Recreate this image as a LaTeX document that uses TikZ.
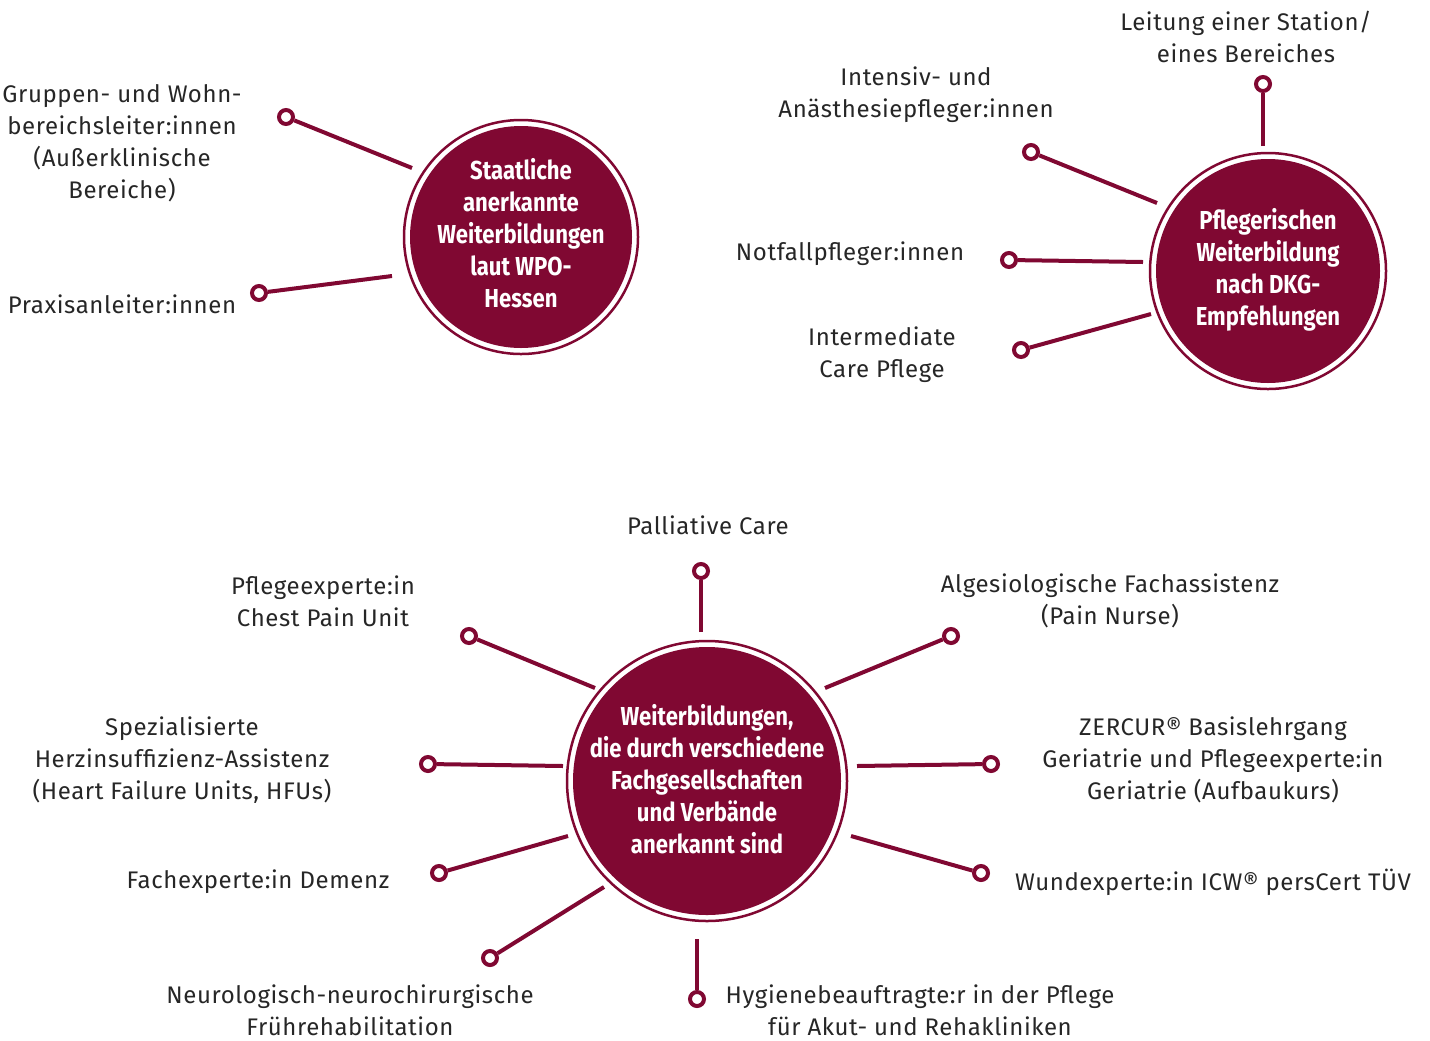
\documentclass[tikz,border=0pt]{standalone}
\usepackage{fontspec}
\setmainfont{Fira Sans}
\newfontfamily\circfont[FakeStretch=0.85]{Fira Sans}
\newfontfamily\labfont[LetterSpace=2.5]{Fira Sans}
\definecolor{maroon}{RGB}{128,8,50}
\begin{document}
\begin{tikzpicture}[x=0.5pt,y=-0.5pt,
  hub/.style={circle,fill=maroon,text=white,inner sep=0pt,align=center,
    font=\circfont\bfseries\fontsize{13pt}{16pt}\selectfont},
  hubtext/.style={text=white,inner sep=0pt,align=center,
    font=\circfont\bfseries\fontsize{13pt}{16pt}\selectfont},
  ring/.style={draw=maroon,line width=1.25pt},
  dot/.style={circle,draw=maroon,fill=white,line width=2pt,minimum size=7pt,inner sep=0pt},
  conn/.style={draw=maroon,line width=2pt},
  lab/.style={align=center,inner sep=0pt,text=black!85,
    font=\labfont\fontsize{12pt}{16pt}\selectfont}]
\useasboundingbox (0,0) rectangle (1430,1040);
% hubs
\node[hub,minimum size=111pt] (c1) at (521,237) {};
\node[hubtext] (t1) at (521,233) {Staatliche\\anerkannte\\Weiterbildungen\\laut WPO-\\Hessen};
\draw[ring] (c1.center) circle[radius=58.5pt];
\node[hub,minimum size=112pt] (c2) at (1268,271) {};
\node[hubtext] (t2) at (1268,270) {Pflegerischen\\Weiterbildung\\nach DKG-\\Empfehlungen};
\draw[ring] (c2.center) circle[radius=59pt];
\node[hub,minimum size=134pt] (c3) at (707,781) {};
\node[hubtext] (t3) at (707,779) {Weiterbildungen,\\die durch verschiedene\\Fachgesellschaften\\und Verbände\\anerkannt sind};
\draw[ring] (c3.center) circle[radius=70pt];
% circle 1
\node[dot] (d11) at (286,117) {};
\node[dot] (d12) at (259,293) {};
\coordinate (a11) at (412,168);
\coordinate (a12) at (392,276);
\draw[conn] (a11) -- (d11);
\draw[conn] (a12) -- (d12);
\node[lab] (l11) at (122,143) {Gruppen- und Wohn-\\bereichsleiter:innen\\(Außerklinische\\Bereiche)};
\node[lab] (l12) at (122,304) {Praxisanleiter:innen};
% circle 2
\node[dot] (d21) at (1263,84) {};
\node[dot] (d22) at (1031,152) {};
\node[dot] (d23) at (1009,260) {};
\node[dot] (d24) at (1021,350) {};
\coordinate (a21) at (1263,146);
\coordinate (a22) at (1157,203);
\coordinate (a23) at (1143,262);
\coordinate (a24) at (1151,314);
\draw[conn] (a21) -- (d21);
\draw[conn] (a22) -- (d22);
\draw[conn] (a23) -- (d23);
\draw[conn] (a24) -- (d24);
\node[lab] (l21) at (1246,37) {Leitung einer Station/\\eines Bereiches};
\node[lab] (l22) at (916,95) {Intensiv- und\\Anästhesiepfleger:innen};
\node[lab] (l23) at (850,254) {Notfallpfleger:innen};
\node[lab] (l24) at (882,355) {Intermediate\\Care Pflege};
% circle 3
\node[dot] (d31) at (701,571) {};
\node[dot] (d32) at (469,636) {};
\node[dot] (d33) at (951,636) {};
\node[dot] (d34) at (428,764) {};
\node[dot] (d35) at (991,764) {};
\node[dot] (d36) at (439,873) {};
\node[dot] (d37) at (981,873) {};
\node[dot] (d38) at (490,958) {};
\node[dot] (d39) at (697,999) {};
\coordinate (a31) at (701,632);
\coordinate (a32) at (595,688);
\coordinate (a33) at (825,688);
\coordinate (a34) at (563,766);
\coordinate (a35) at (857,766);
\coordinate (a36) at (568,836);
\coordinate (a37) at (851,836);
\coordinate (a38) at (604,887);
\coordinate (a39) at (697,939);
\foreach \i in {1,...,9} {\draw[conn] (a3\i) -- (d3\i);}
\node[lab] (l31) at (708,525) {Palliative Care};
\node[lab] (l32) at (323,601) {Pflegeexperte:in\\Chest Pain Unit};
\node[lab] (l33) at (1110,601) {Algesiologische Fachassistenz\\(Pain Nurse)};
\node[lab] (l34) at (182,760) {Spezialisierte\\Herzinsuffizienz-Assistenz\\(Heart Failure Units, HFUs)};
\node[lab] (l35) at (1213,760) {ZERCUR® Basislehrgang\\Geriatrie und Pflegeexperte:in\\Geriatrie (Aufbaukurs)};
\node[lab] (l36) at (258,882) {Fachexperte:in Demenz};
\node[lab] (l37) at (1213,882) {Wundexperte:in ICW® persCert TÜV};
\node[lab] (l38) at (350,1010) {Neurologisch-neurochirurgische\\Frührehabilitation};
\node[lab] (l39) at (920,1010) {Hygienebeauftragte:r in der Pflege\\für Akut- und Rehakliniken};
\end{tikzpicture}
\end{document}
